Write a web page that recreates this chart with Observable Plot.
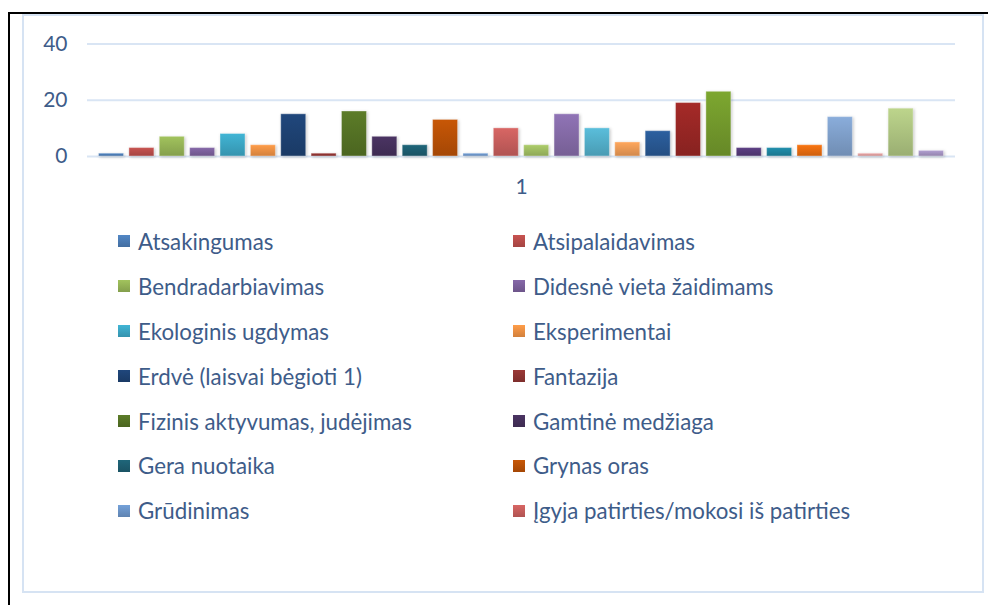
<!DOCTYPE html>
<html>
<head>
<meta charset="utf-8">
<script src="https://cdn.jsdelivr.net/npm/d3@7"></script>
<script src="https://cdn.jsdelivr.net/npm/@observablehq/plot@0.6"></script>
<style>
  html, body { margin: 0; padding: 0; background: #ffffff; }
  body { width: 988px; height: 605px; position: relative; overflow: hidden; font-family: Lato, "Open Sans", sans-serif; }
  #outer { position: absolute; left: 8px; top: 12px; width: 990px; height: 600px; border-left: 2.5px solid #000; border-top: 2px solid #000; }
  #inner { position: absolute; left: 22px; top: 14px; width: 958px; height: 575px; border: 2px solid #d6e3f3; background: #fff; }
  #chart { position: absolute; left: 0; top: 0; }
  #legend { position: absolute; left: 118px; top: 219px; display: grid; grid-template-columns: 395px 400px; grid-auto-rows: 44.9px; }
  .item { display: flex; align-items: center; font-size: 22.3px; color: #3E5C89; white-space: nowrap; }
  .sw { width: 12px; height: 12px; margin-right: 8px; flex: none; }
</style>
</head>
<body>
<div id="outer"></div>
<div id="inner"></div>
<div id="chart"></div>
<div id="legend"></div>
<script>
// Category (single group on the x axis)
const categories = ["1"];
// Legend names visible in the reference (first 14 series)
const seriesNames = [
  "Atsakingumas", "Atsipalaidavimas",
  "Bendradarbiavimas", "Didesnė vieta žaidimams",
  "Ekologinis ugdymas", "Eksperimentai",
  "Erdvė (laisvai bėgioti 1)", "Fantazija",
  "Fizinis aktyvumas, judėjimas", "Gamtinė medžiaga",
  "Gera nuotaika", "Grynas oras",
  "Grūdinimas", "Įgyja patirties/mokosi iš patirties"
];
// Values of all 28 series, in order
const values = [1, 3, 7, 3, 8, 4, 15, 1, 16, 7, 4, 13, 1, 10, 4, 15, 10, 5, 9, 19, 23, 3, 3, 4, 14, 1, 17, 2];
// Series colours (Excel 2010 style palette)
const palette = [
  "#4F81BD", "#C0504D", "#9BBB59", "#8064A2", "#3EADCC", "#F79646",
  "#1F4477", "#943634", "#587726", "#48325F", "#1E6275", "#C05306",
  "#6F9AD0", "#CF6260", "#A6C466", "#8A6FAE", "#56B6D2", "#F5A058",
  "#2A5C99", "#9E2826", "#78A02E", "#583C7E", "#1F89A6", "#F07010",
  "#84A6D2", "#E5A2A2", "#B5CC86", "#AB99C9"
];
const yTicks = [0, 20, 40];

const idx = d3.range(values.length);
const data = values.map((v, i) => ({cat: categories[0], idx: i, value: v}));
const gradId = i => `bargrad${i}`;
const light = c => d3.color(c).brighter(0.12).formatHex();
const dark = c => d3.color(c).darker(0.45).formatHex();

const chart = Plot.plot({
  width: 988,
  height: 200,
  marginLeft: 87,
  marginRight: 33,
  marginTop: 43.5,
  marginBottom: 44,
  style: {fontFamily: "Lato, 'Open Sans', sans-serif", fontSize: "21px", color: "#3E5C89", background: "transparent", overflow: "visible"},
  fx: {domain: categories, padding: 0, round: false, label: null, axis: "bottom", tickSize: 0, tickPadding: 23},
  x: {domain: idx, paddingInner: 0.177, paddingOuter: 0.38, round: false, axis: null},
  y: {domain: [0, 40], ticks: yTicks, tickSize: 0, tickPadding: 20, label: null},
  color: {type: "ordinal", domain: idx, range: idx.map(i => `url(#${gradId(i)})`)},
  marks: [
    Plot.ruleY(yTicks, {stroke: "#d9e5f4", strokeWidth: 2.2}),
    Plot.barY(data, {fx: "cat", x: "idx", y: "value", fill: "idx", stroke: "#ffffff", strokeOpacity: 0.35, strokeWidth: 1})
  ]
});

// gradients for the bars
const svg = d3.select(chart);
const defs = svg.insert("defs", ":first-child");
palette.forEach((c, i) => {
  const g = defs.append("linearGradient").attr("id", gradId(i)).attr("x1", 0).attr("y1", 0).attr("x2", 0).attr("y2", 1);
  g.append("stop").attr("offset", "0%").attr("stop-color", light(c));
  g.append("stop").attr("offset", "100%").attr("stop-color", dark(c));
});
svg.selectAll("g[aria-label='bar'] rect").style("filter", "drop-shadow(1.5px 1px 1.5px rgba(0,0,0,0.22))");
document.getElementById("chart").appendChild(chart);

// legend
const legend = d3.select("#legend");
seriesNames.forEach((name, i) => {
  const item = legend.append("div").attr("class", "item");
  item.append("div").attr("class", "sw")
    .style("background", `linear-gradient(to bottom, ${light(palette[i])}, ${dark(palette[i])})`);
  item.append("span").text(name);
});
</script>
</body>
</html>
